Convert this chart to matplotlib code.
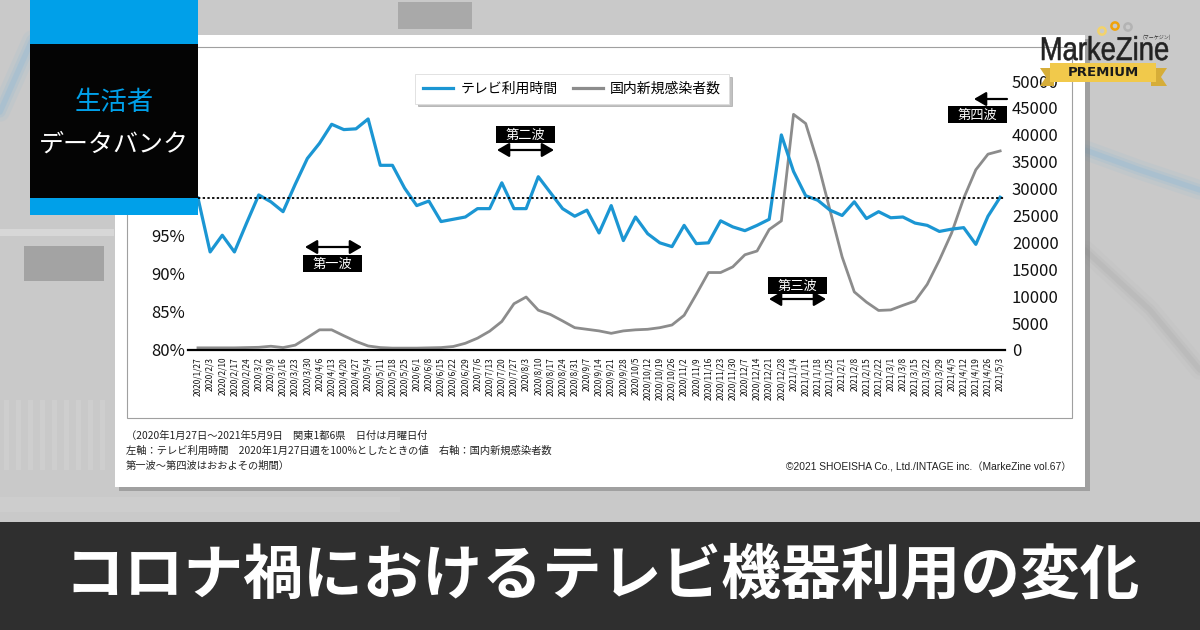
import matplotlib
matplotlib.use('Agg')
import matplotlib.pyplot as plt
from matplotlib.patches import Rectangle, Polygon, Circle, FancyArrowPatch, PathPatch
from matplotlib.textpath import TextPath
from matplotlib.font_manager import FontProperties
from matplotlib.transforms import Affine2D
import numpy as np

plt.rcParams['font.family'] = ['Noto Sans CJK JP', 'DejaVu Sans']

# ---------------- data ----------------
dates = ['2020/1/27', '2020/2/3', '2020/2/10', '2020/2/17', '2020/2/24', '2020/3/2', '2020/3/9',
         '2020/3/16', '2020/3/23', '2020/3/30', '2020/4/6', '2020/4/13', '2020/4/20', '2020/4/27',
         '2020/5/4', '2020/5/11', '2020/5/18', '2020/5/25', '2020/6/1', '2020/6/8', '2020/6/15',
         '2020/6/22', '2020/6/29', '2020/7/6', '2020/7/13', '2020/7/20', '2020/7/27', '2020/8/3',
         '2020/8/10', '2020/8/17', '2020/8/24', '2020/8/31', '2020/9/7', '2020/9/14', '2020/9/21',
         '2020/9/28', '2020/10/5', '2020/10/12', '2020/10/19', '2020/10/26', '2020/11/2',
         '2020/11/9', '2020/11/16', '2020/11/23', '2020/11/30', '2020/12/7', '2020/12/14',
         '2020/12/21', '2020/12/28', '2021/1/4', '2021/1/11', '2021/1/18', '2021/1/25', '2021/2/1',
         '2021/2/8', '2021/2/15', '2021/2/22', '2021/3/1', '2021/3/8', '2021/3/15', '2021/3/22',
         '2021/3/29', '2021/4/5', '2021/4/12', '2021/4/19', '2021/4/26', '2021/5/3']

tv_time = [100.0, 92.9, 95.1, 92.9, 96.7, 100.4, 99.5, 98.2, 101.8, 105.2,
           107.2, 109.7, 109.0, 109.1, 110.4, 104.3, 104.3, 101.3, 99.0, 99.6,
           96.9, 97.2, 97.5, 98.6, 98.6, 102.0, 98.6, 98.6, 102.8, 100.7,
           98.6, 97.6, 98.4, 95.4, 99.0, 94.4, 97.5, 95.3, 94.1, 93.6,
           96.4, 94.0, 94.1, 97.0, 96.2, 95.7, 96.4, 97.2, 108.3, 103.5,
           100.3, 99.7, 98.4, 97.7, 99.5, 97.3, 98.2, 97.4, 97.5, 96.7,
           96.4, 95.6, 95.9, 96.1, 93.9, 97.6, 100.1]

new_cases = [400, 400, 400, 400, 450, 500, 700, 450, 900, 2300,
             3750, 3750, 2650, 1600, 750, 450, 350, 350, 350, 400,
             450, 650, 1250, 2200, 3500, 5300, 8600, 9850, 7400, 6600,
             5400, 4150, 3850, 3550, 3100, 3550, 3750, 3850, 4150, 4650,
             6450, 10350, 14400, 14400, 15450, 17700, 18400, 22400, 24000, 43800,
             42100, 34800, 26000, 17300, 10800, 8900, 7350, 7450, 8300, 9100,
             12200, 16700, 21700, 28200, 33500, 36400, 37000]

left_ticks = [80, 85, 90, 95]
right_ticks = [0, 5000, 10000, 15000, 20000, 25000, 30000, 35000, 40000, 45000, 50000]
series_names = ['テレビ利用時間', '国内新規感染者数']

BLUE = '#1b96d3'
GRAY = '#8c8c8c'
BADGE_BLUE = '#00a0e9'

W, H = 1200, 630
fig = plt.figure(figsize=(12, 6.3), dpi=100)
fig.patch.set_facecolor('#c9c9c9')
PX = Affine2D().scale(1 / W, -1 / H).translate(0, 1) + fig.transFigure


def rect(x0, y0, x1, y1, fc, z, **kw):
    r = Rectangle((x0, y0), x1 - x0, y1 - y0, facecolor=fc, transform=PX, zorder=z, **kw)
    fig.add_artist(r)
    return r


def txt(x, y, s, z=12, **kw):
    return fig.text(x, y, s, transform=PX, zorder=z, **kw)


def line(xs, ys, z, **kw):
    fig.add_artist(plt.Line2D(xs, ys, transform=PX, zorder=z, **kw))


# ---------------- blurred background hints ----------------
for lw, a in [(14, 0.12), (8, 0.2), (4, 0.3)]:
    line([0, 32], [112, 40], -8, color='#8fb9d6', lw=lw, alpha=a, solid_capstyle='round')
    line([1085, 1140, 1200], [150, 170, 190], -8, color='#8fb9d6', lw=lw, alpha=a, solid_capstyle='round')
    line([1085, 1150, 1200], [250, 310, 370], -8, color='#a8a8a8', lw=lw, alpha=a * 0.7, solid_capstyle='round')
rect(398, 2, 472, 29, '#8a8a8a', -8, alpha=0.5, lw=0)
rect(24, 246, 104, 281, '#7f7f7f', -8, alpha=0.5, lw=0)
line([0, 110], [232, 232], -8, color='#e2e2e2', lw=5, alpha=0.6)
for i in range(9):
    rect(4 + 12 * i, 400, 9 + 12 * i, 470, '#d8d8d8', -8, alpha=0.35, lw=0)
rect(0, 497, 400, 512, '#d6d6d6', -8, alpha=0.35, lw=0)

# ---------------- card ----------------
rect(119, 39, 1090, 491, '#6f6f6f', -6, alpha=0.45, lw=0)
rect(115, 35, 1085, 487, 'white', -5, lw=0)
rect(127, 47, 1072, 418, 'none', -4, edgecolor='#a0a0a0', lw=0.8)

# ---------------- chart ----------------
ax = fig.add_axes([188 / W, 1 - 350 / H, (1005 - 188) / W, (350 - 81) / H])
ax2 = ax.twinx()
ax.set_zorder(2)
ax2.set_zorder(1)
ax.patch.set_visible(False)
ax2.patch.set_visible(False)

x = np.arange(len(dates))
ax.set_xlim(-0.82, 66.4)
ax.set_ylim(80, 80 + 269 / 7.6)
ax2.set_ylim(0, 50000)

l2, = ax2.plot(x, new_cases, color=GRAY, lw=2.0, label=series_names[1])
l1, = ax.plot(x, tv_time, color=BLUE, lw=2.3, label=series_names[0])
ax.hlines(100, 0, 66.4, colors='black', linestyles=(0, (1.3, 1.3)), lw=1.3)

for a in (ax, ax2):
    for s in ('top', 'left', 'right'):
        a.spines[s].set_visible(False)
ax2.spines['bottom'].set_visible(False)
ax.spines['bottom'].set_color('black')
ax.spines['bottom'].set_linewidth(1.6)

ax.set_yticks(left_ticks, [f'{v}%' for v in left_ticks])
ax.tick_params(axis='y', length=0, pad=2, labelsize=12, labelcolor='#111111')
ax2.set_yticks(right_ticks, [str(v) for v in right_ticks])
ax2.tick_params(axis='y', length=0, pad=5, labelsize=12, labelcolor='#111111')
ax.set_xticks(x, dates, rotation=90, fontsize=6)
ax.tick_params(axis='x', length=0, pad=5, labelcolor='#111111')

leg = ax.legend([l1, l2], series_names, loc='center', bbox_to_anchor=(572 / W, 1 - 89 / H),
                bbox_transform=fig.transFigure, ncol=2, fontsize=10, handlelength=2.2,
                handletextpad=0.5, columnspacing=1.1, frameon=True, fancybox=False,
                shadow={'color': '#777777', 'alpha': 0.45}, borderpad=0.55)
leg.get_frame().set_edgecolor('#dddddd')
leg.get_frame().set_linewidth(0.6)
for h in leg.legend_handles:
    h.set_linewidth(2.3)


# ---------------- wave annotations ----------------
def wave(cx, cy, label):
    rect(cx - 29.5, cy - 8.5, cx + 29.5, cy + 8.5, 'black', 6, lw=0)
    txt(cx, cy + 0.5, label, z=7, color='white', fontsize=9.5, ha='center', va='center')


def arrow(xa, xb, y, style):
    fig.add_artist(FancyArrowPatch((xa, y), (xb, y), transform=PX, zorder=6,
                                   arrowstyle=style, mutation_scale=12, shrinkA=0, shrinkB=0,
                                   color='black', lw=1.6))


ds = '<|-|>,head_length=0.6,head_width=0.35'
wave(332.5, 263.5, '第一波')
arrow(305, 362, 247, ds)
wave(525, 134.5, '第二波')
arrow(497, 554, 150, ds)
wave(797.5, 285.5, '第三波')
arrow(769, 826, 299, ds)
wave(977, 114.5, '第四波')
arrow(1007, 974, 99, '-|>,head_length=0.6,head_width=0.35')

# ---------------- footnotes ----------------
notes = ['（2020年1月27日～2021年5月9日　関東1都6県　日付は月曜日付',
         '左軸：テレビ利用時間　2020年1月27日週を100%としたときの値　右軸：国内新規感染者数',
         '第一波～第四波はおおよその期間）']
for i, s in enumerate(notes):
    txt(126, 436 + 14.8 * i, s, z=5, fontsize=7.4, color='#222222', ha='left', va='center')
txt(1072, 467, '©2021 SHOEISHA Co., Ltd./INTAGE inc.（MarkeZine vol.67）', z=5, fontsize=7.4,
    color='#222222', ha='right', va='center', family=['Liberation Sans', 'Noto Sans CJK JP'])

# ---------------- badge ----------------
rect(30, 0, 198, 215, BADGE_BLUE, 10, lw=0)
rect(30, 44, 198, 198, '#040404', 11, lw=0)
txt(114, 103, '生活者', z=12, color=BADGE_BLUE, fontsize=19, ha='center', va='center')
txt(114, 145, 'データバンク', z=12, color='white', fontsize=18, ha='center', va='center')

# ---------------- logo ----------------
for (cx, cy, c) in [(1102, 31, '#f3d36b'), (1115, 26, '#f0a30a'), (1128, 27, '#b3b3b3')]:
    fig.add_artist(Circle((cx, cy), 3.6, fill=False, edgecolor=c, lw=1.8, transform=PX, zorder=12))
tp = TextPath((0, 0), 'MarkeZine', size=33, prop=FontProperties(family='Liberation Sans'))
ext = tp.get_extents()
sx = 126 / ext.width
tr = Affine2D().translate(-ext.x0, 0).scale(sx, -1).translate(1042, 60) + PX
fig.add_artist(PathPatch(tp, transform=tr, facecolor='#222222', edgecolor='#222222', lw=0.4, zorder=12))
txt(1157, 37, '(マーケジン)', z=12, fontsize=3.6, color='#333333', ha='center', va='center')
fig.add_artist(Polygon([(1040, 68), (1054, 68), (1054, 86), (1040, 86), (1046, 77)], closed=True,
                       facecolor='#d6ad38', lw=0, transform=PX, zorder=12))
fig.add_artist(Polygon([(1151, 68), (1167, 68), (1161, 77), (1167, 86), (1151, 86)], closed=True,
                       facecolor='#d6ad38', lw=0, transform=PX, zorder=12))
rect(1050, 63, 1156, 82, '#f1c94b', 13, lw=0)
txt(1103, 73, 'PREMIUM', z=14, family='DejaVu Sans', fontweight='bold', fontsize=9.5,
    color='#1a1a1a', ha='center', va='center')

# ---------------- bottom banner ----------------
rect(0, 522, 1200, 630, '#2f2f2f', 10, lw=0)
txt(602, 576, 'コロナ禍におけるテレビ機器利用の変化', z=11, color='white', fontsize=43,
    fontweight='bold', ha='center', va='center')

fig.savefig('out.png', dpi=100, facecolor=fig.get_facecolor())
